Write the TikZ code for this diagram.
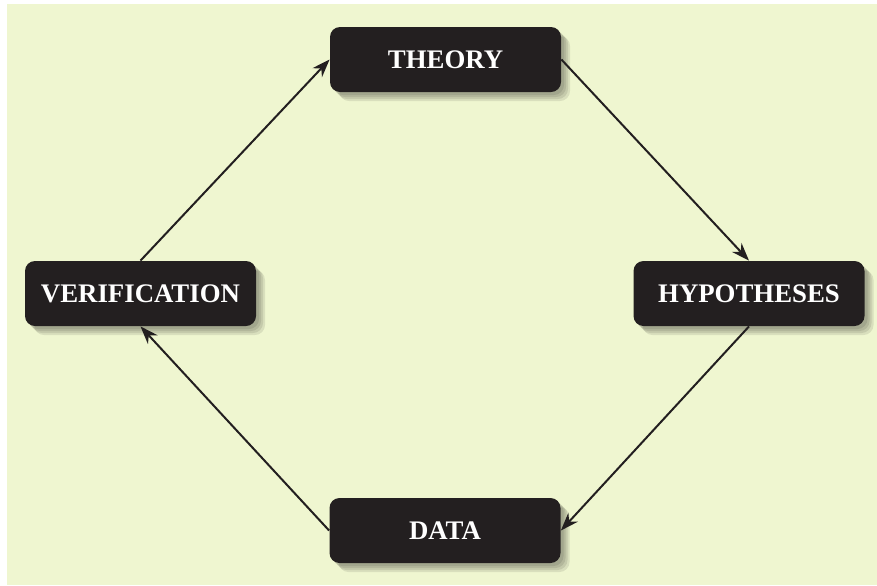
\documentclass[tikz,border=0pt]{standalone}
\usepackage{fontspec}
\setmainfont{Liberation Serif}
\usetikzlibrary{
    positioning,
    arrows.meta,
    shadows
}
\definecolor{bakgrunn}{RGB}{239,246,208}
\definecolor{boksfarge}{RGB}{35,31,32}

\begin{document}
\begin{tikzpicture}[x=0.5pt,y=-0.5pt,
	skygge/.style={drop shadow={shadow xshift=#1, shadow yshift=-#1, opacity=0.09, fill=black}},
	boks/.style={rectangle, rounded corners=5pt, fill=boksfarge, text=white,
		minimum width=115.5pt, minimum height=32.5pt, inner sep=0pt,
		font=\fontsize{13.4}{15}\selectfont\bfseries,
		skygge=4.5pt, skygge=3.5pt, skygge=2.5pt, skygge=1.5pt},
	pil/.style={-{Stealth[length=9pt,width=6.5pt]}, line width=1pt, draw=boksfarge}]
		% Bakgrunn
		\fill[white] (0,0) rectangle (877,585);
		\fill[bakgrunn] (7,4) rectangle (877,585);
		\useasboundingbox (0,0) rectangle (877,585);

		% Boksene
		\node[boks] (theory) at (445.5,59.5) {THEORY};
		\node[boks] (hyp) at (749,293.5) {HYPOTHESES};
		\node[boks] (data) at (445,530.5) {DATA};
		\node[boks] (verif) at (140.5,293.5) {VERIFICATION};

		% Piler rundt sirkelen
		\draw[pil] (verif.north) -- (theory.west);
		\draw[pil] (theory.east) -- (hyp.north);
		\draw[pil] (hyp.south) -- (data.east);
		\draw[pil] (data.west) -- (verif.south);
	\end{tikzpicture}
\end{document}
